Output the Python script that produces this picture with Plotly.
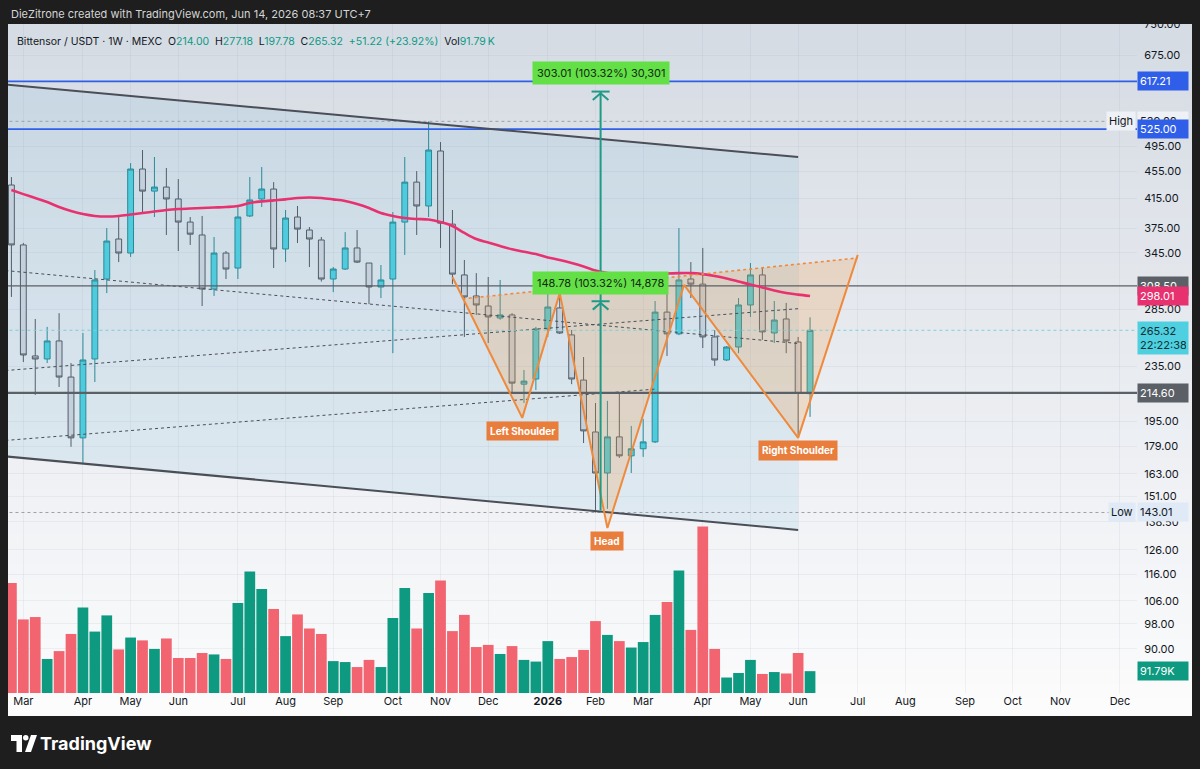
import numpy as np
import pandas as pd
import plotly.graph_objects as go

# ---------------- data ----------------
week_start = "2025-02-24"
n_weeks = 68

open_ = [434.3, 354.4, 243.2, 240.7, 255.9, 226.4, 184.2, 240.7, 315.7, 361.6,
         344.8, 458.5, 425.4, 431.3, 414.2, 383.0, 366.6, 305.2, 344.8, 327.7,
         391.0, 414.2, 428.4, 349.6, 389.6, 372.8, 360.4, 315.7, 326.6, 350.8,
         333.3, 307.3, 315.7, 383.0, 438.6, 404.5, 487.4, 380.3, 320.1, 298.1,
         288.1, 276.6, 279.5, 221.0, 224.9, 266.5, 286.2, 261.2, 224.1, 187.9,
         163.5, 184.8, 173.3, 177.5, 181.7, 282.2, 262.1, 315.7, 310.3, 259.4,
         239.9, 250.7, 289.1, 320.1, 262.9, 275.7, 255.0, 214.00]
high_ = [446.2, 356.8, 275.7, 268.4, 281.2, 237.4, 262.9, 325.5, 375.3, 389.6,
         467.8, 489.0, 477.6, 460.1, 443.2, 389.6, 391.0, 364.1, 347.2, 403.1,
         446.2, 461.6, 438.6, 399.0, 404.5, 376.6, 364.1, 328.8, 370.2, 372.8,
         333.3, 331.1, 396.2, 477.6, 455.3, 539.0, 502.4, 399.0, 336.8, 322.1,
         317.9, 314.7, 281.2, 231.9, 268.4, 314.7, 301.0, 265.6, 242.3, 207.3,
         208.8, 214.4, 191.8, 196.4, 293.0, 307.3, 375.3, 334.4, 350.8, 265.6,
         251.5, 296.0, 333.3, 328.8, 293.0, 291.1, 259.4, 277.18]
low_ = [297.1, 238.2, 213.1, 237.4, 218.9, 178.7, 169.2, 222.6, 301.0, 334.4,
        340.3, 396.2, 389.6, 366.6, 347.2, 354.4, 288.1, 298.1, 315.7, 315.7,
        389.6, 403.1, 327.7, 334.4, 356.8, 328.8, 313.0, 302.0, 325.5, 333.3,
        290.0, 296.0, 245.5, 342.6, 366.6, 389.6, 350.8, 310.3, 259.4, 279.5,
        254.1, 275.0, 214.4, 207.3, 216.7, 259.4, 262.0, 221.0, 181.0, 143.01,
        144.8, 172.1, 163.5, 172.7, 181.0, 243.2, 261.0, 296.0, 249.8, 235.1,
        239.0, 245.5, 277.6, 256.8, 254.1, 245.5, 184.2, 197.78]
close_ = [354.4, 244.0, 240.7, 255.9, 226.4, 184.2, 239.9, 314.7, 359.1, 344.8,
          458.5, 425.4, 431.3, 414.2, 383.0, 367.6, 305.2, 344.8, 326.6, 389.6,
          412.8, 428.4, 349.6, 388.3, 374.0, 361.6, 315.7, 326.6, 350.8, 334.4,
          307.3, 314.7, 383.0, 438.6, 404.5, 489.0, 381.6, 321.0, 297.1, 289.1,
          277.6, 279.5, 221.8, 223.3, 266.5, 287.1, 262.9, 224.9, 188.6, 163.5,
          184.8, 173.3, 177.5, 181.7, 282.2, 262.1, 314.7, 310.3, 259.4, 239.9,
          250.7, 289.1, 320.1, 263.9, 274.7, 255.9, 214.10, 265.32]
volume_k = [462, 309, 319, 143, 176, 248, 359, 258, 326, 183,
            233, 221, 185, 229, 147, 147, 168, 162, 143, 378,
            510, 437, 353, 239, 330, 271, 248, 134, 130, 109,
            139, 109, 315, 441, 271, 420, 473, 260, 328, 193,
            202, 164, 197, 139, 132, 218, 143, 151, 181, 302,
            244, 218, 191, 214, 328, 382, 515, 265, 699, 185,
            65, 84, 139, 80, 88, 82, 168, 91.79]
ma_line = [426.9, 421.1, 415.6, 409.9, 403.1, 397.6, 393.5, 391.0, 390.3, 391.0,
           392.9, 394.9, 396.9, 399.0, 400.3, 401.0, 401.7, 402.4, 403.1, 404.5,
           408.7, 410.8, 412.3, 413.7, 415.6, 416.3, 415.6, 413.7, 411.5, 407.3,
           401.7, 394.9, 391.0, 388.3, 387.0, 386.3, 383.0, 377.9, 369.1, 361.6,
           357.4, 353.2, 349.2, 346.4, 343.6, 339.7, 336.8, 333.3, 329.4, 324.9,
           322.1, 320.4, 320.1, 320.1, 320.4, 321.6, 322.1, 322.1, 321.0, 319.0,
           316.3, 313.1, 309.8, 306.8, 303.6, 301.0, 299.4, 298.01]

month_dates = ["2025-03-03", "2025-04-07", "2025-05-05", "2025-06-02", "2025-07-07",
               "2025-08-04", "2025-09-01", "2025-10-06", "2025-11-03", "2025-12-01",
               "2026-01-05", "2026-02-02", "2026-03-02", "2026-04-06", "2026-05-04",
               "2026-06-01", "2026-07-06", "2026-08-03", "2026-09-07", "2026-10-05",
               "2026-11-02", "2026-12-07"]
month_labels = ["Mar", "Apr", "May", "Jun", "Jul", "Aug", "Sep", "Oct", "Nov", "Dec",
                "<b>2026</b>", "Feb", "Mar", "Apr", "May", "Jun", "Jul", "Aug", "Sep",
                "Oct", "Nov", "Dec"]
price_ticks = [750, 675, 495, 455, 415, 375, 345, 285, 235,
               195, 179, 163, 151, 138.5, 126, 116, 106, 98, 90]

# drawings (date, price)
channel_x = ["2025-02-17", "2026-06-01"]
channel_upper = [611.8, 477.6]
channel_lower = [173.3, 134.8]
channel_mid = [325.5, 253.7]
rise_a_x = ["2025-02-17", "2026-06-01"]
rise_a_y = [231.1, 285.5]
rise_b_x = ["2025-02-17", "2026-03-09"]
rise_b_y = [182.3, 217.3]
hs_x = ["2025-11-10", "2025-12-21", "2026-01-12", "2026-02-09", "2026-03-26", "2026-06-01", "2026-07-06"]
hs_y = [317.9, 197.1, 301.0, 135.7, 309.4, 184.2, 342.6]
neck_x = ["2025-11-16", "2026-07-06"]
neck_y = [295.2, 339.1]
measure_x = "2026-02-05"
measure_low = 144.0
measure_tip1 = 292.78
measure_tip2 = 596.28
blue_levels = [617.21, 525.00]
gray_levels = [308.50, 214.60]
high_mark = 539.00
low_mark = 143.01
last_price = 265.32
ma_last = 298.01
last_volume = 91.79

FONT = "Inter, Roboto, 'Open Sans', sans-serif"
TEXT = "#131722"
X_START, X_END = "2025-02-22", "2026-12-17"
X_FAR0, X_FAR1 = "2025-01-01", "2027-02-01"

dates = pd.date_range(week_start, periods=n_weeks, freq="7D")
bull = [c >= o for o, c in zip(open_, close_)]

fig = go.Figure()

# volume (main linear axis, hidden)
fig.add_trace(go.Bar(
    x=dates, y=volume_k, yaxis="y",
    width=7 * 86400000 * 0.9,
    marker=dict(color=["#0e9a81" if b else "#f2646f" for b in bull], line=dict(width=0)),
))

# channel fill
fig.add_trace(go.Scatter(
    x=[channel_x[0], channel_x[1], channel_x[1], channel_x[0], channel_x[0]],
    y=[channel_upper[0], channel_upper[1], channel_lower[1], channel_lower[0], channel_upper[0]],
    yaxis="y2", mode="lines", fill="toself", fillcolor="rgba(90,175,215,0.12)",
    line=dict(width=0)))

# H&S fill
fig.add_trace(go.Scatter(
    x=[neck_x[0]] + hs_x[1:] + [neck_x[1], neck_x[0]],
    y=[neck_y[0]] + hs_y[1:] + [neck_y[1], neck_y[0]],
    yaxis="y2", mode="lines", fill="toself", fillcolor="rgba(240,150,60,0.22)",
    line=dict(width=0)))

# dotted helper lines
for xs, ys in [(channel_x, channel_mid), (rise_a_x, rise_a_y), (rise_b_x, rise_b_y)]:
    fig.add_trace(go.Scatter(x=xs, y=ys, yaxis="y2", mode="lines",
                             line=dict(color="#4a4e57", width=1, dash="dot")))

# horizontal levels
for lv in blue_levels:
    fig.add_trace(go.Scatter(x=[X_FAR0, X_FAR1], y=[lv, lv], yaxis="y2", mode="lines",
                             line=dict(color="#2f5fe8", width=1.6)))
fig.add_trace(go.Scatter(x=[X_FAR0, X_FAR1], y=[gray_levels[0]] * 2, yaxis="y2", mode="lines",
                         line=dict(color="#5b5f66", width=1.3)))
fig.add_trace(go.Scatter(x=[X_FAR0, X_FAR1], y=[gray_levels[1]] * 2, yaxis="y2", mode="lines",
                         line=dict(color="#5b5f66", width=2.2)))
for lv in [high_mark, low_mark]:
    fig.add_trace(go.Scatter(x=[X_FAR0, "2026-12-01"], y=[lv, lv], yaxis="y2", mode="lines",
                             line=dict(color="#9aa0aa", width=1, dash="dot")))
fig.add_trace(go.Scatter(x=[X_FAR0, X_FAR1], y=[last_price] * 2, yaxis="y2", mode="lines",
                         line=dict(color="#7ccfd8", width=1, dash="dot")))

# candles
fig.add_trace(go.Candlestick(
    x=dates, open=open_, high=high_, low=low_, close=close_, yaxis="y2",
    increasing=dict(fillcolor="#4fd0e0", line=dict(color="#23868f", width=1)),
    decreasing=dict(fillcolor="#d3d5dc", line=dict(color="#50545c", width=1)),
    whiskerwidth=0))

# moving average
fig.add_trace(go.Scatter(x=dates, y=ma_line, yaxis="y2", mode="lines",
                         line=dict(color="#e8316f", width=2.6, shape="spline")))

# channel borders
for ys in [channel_upper, channel_lower]:
    fig.add_trace(go.Scatter(x=channel_x, y=ys, yaxis="y2", mode="lines",
                             line=dict(color="#4a4e57", width=2)))

# neckline + zigzag
fig.add_trace(go.Scatter(x=neck_x, y=neck_y, yaxis="y2", mode="lines",
                         line=dict(color="#ef8a3c", width=1.6, dash="dot")))
fig.add_trace(go.Scatter(x=hs_x, y=hs_y, yaxis="y2", mode="lines",
                         line=dict(color="#ef8a3c", width=2)))

# measurement line with arrow heads
teal = "#1f9a87"
fig.add_trace(go.Scatter(x=[measure_x, measure_x], y=[measure_low, measure_tip2], yaxis="y2",
                         mode="lines", line=dict(color=teal, width=2)))
mdt = pd.Timestamp(measure_x)
arr_x, arr_y = [], []
for tip in [measure_tip1, measure_tip2]:
    arr_x += [mdt - pd.Timedelta(days=5.3), mdt + pd.Timedelta(days=5.3), None,
              mdt - pd.Timedelta(days=4.6), mdt, mdt + pd.Timedelta(days=4.6), None]
    arr_y += [tip, tip, None, tip * 0.972, tip * 0.994, tip * 0.972, None]
fig.add_trace(go.Scatter(x=arr_x, y=arr_y, yaxis="y2", mode="lines",
                         line=dict(color=teal, width=2)))

# ---------------- background panel (gradient) ----------------
def pxx(px):
    return (px - 8) / 1129

def pxy(py):
    return (693 - py) / 669

shapes = [dict(type="rect", xref="paper", yref="paper", x0=pxx(8), x1=pxx(1192),
               y0=pxy(716), y1=pxy(24), fillcolor="#fbfbfc", line=dict(width=0), layer="below")]
top_c = np.array([214, 220, 228])
bot_c = np.array([252, 252, 253])
n_strips = 46
for k in range(n_strips):
    t = k / (n_strips - 1)
    c = top_c + (bot_c - top_c) * t
    y0 = 24 + k * 15
    y1 = min(y0 + 15.5, 716)
    shapes.append(dict(type="rect", xref="paper", yref="paper", x0=pxx(8), x1=pxx(1192),
                       y0=pxy(y1), y1=pxy(y0), fillcolor=f"rgb({int(c[0])},{int(c[1])},{int(c[2])})",
                       line=dict(width=0), layer="below"))
# dark frame strip above the panel (clips the topmost tick label like the reference)
shapes.append(dict(type="rect", xref="paper", yref="paper", x0=pxx(900), x1=pxx(1200),
                   y0=pxy(24), y1=pxy(0), fillcolor="#1e1e1e", line=dict(width=0), layer="above"))
# TradingView logo glyph
shapes += [
    dict(type="rect", xref="paper", yref="paper", x0=pxx(11), x1=pxx(22), y0=pxy(741), y1=pxy(735),
         fillcolor="white", line=dict(width=0)),
    dict(type="rect", xref="paper", yref="paper", x0=pxx(16.5), x1=pxx(22), y0=pxy(752), y1=pxy(741),
         fillcolor="white", line=dict(width=0)),
    dict(type="circle", xref="paper", yref="paper", x0=pxx(23), x1=pxx(28.5), y0=pxy(740.5), y1=pxy(735),
         fillcolor="white", line=dict(width=0)),
    dict(type="path", xref="paper", yref="paper",
         path=f"M{pxx(25)},{pxy(752)} L{pxx(31)},{pxy(752)} L{pxx(37)},{pxy(735)} L{pxx(31)},{pxy(735)} Z",
         fillcolor="white", line=dict(width=0)),
]

# ---------------- annotations ----------------
ann = []
ann.append(dict(xref="paper", yref="paper", x=pxx(9), y=pxy(14), xanchor="left", yanchor="middle",
                text="DieZitrone created with TradingView.com, Jun 14, 2026 08:37 UTC+7",
                showarrow=False, font=dict(family=FONT, size=11, color="#d4d4d4")))
g = "#0c9a84"
prev_close = close_[-2]
def val(s):
    return f"<span style='color:{g}'>{s}</span>"
legend_txt = ("Bittensor / USDT · 1W · MEXC\u00a0\u00a0O" + val(f"{open_[-1]:.2f}") +
              "\u00a0\u00a0H" + val(f"{high_[-1]:.2f}") +
              "\u00a0\u00a0L" + val(f"{low_[-1]:.2f}") +
              "\u00a0\u00a0C" + val(f"{close_[-1]:.2f}") +
              "\u00a0\u00a0" + val(f"{close_[-1]-prev_close:+.2f} ({(close_[-1]/prev_close-1)*100:+.2f}%)") +
              "\u00a0\u00a0Vol" + val(f"{last_volume:.2f}\u2009K"))
ann.append(dict(xref="paper", yref="paper", x=pxx(15), y=pxy(42), xanchor="left", yanchor="middle",
                text=legend_txt, showarrow=False, font=dict(family=FONT, size=10.5, color=TEXT)))
ann.append(dict(xref="paper", yref="paper", x=pxx(38), y=pxy(743), xanchor="left", yanchor="middle",
                text="<b>TradingView</b>", showarrow=False, font=dict(family=FONT, size=18, color="white")))

def tag(price, text, bg, fg, yref="y2", yanchor="middle", yshift=0):
    y = float(np.log10(price)) if yref == "y2" else price
    return dict(xref="paper", x=1.0, xanchor="left", yref=yref, y=y, yanchor=yanchor, yshift=yshift,
                text=text, showarrow=False, bgcolor=bg, borderpad=2, width=46, align="left",
                font=dict(family=FONT, size=11, color=fg))

ann += [
    tag(blue_levels[0], f"{blue_levels[0]:.2f}", "#2f5fe8", "white"),
    tag(high_mark, f"{high_mark:.2f}", "#eef1f6", TEXT),
    tag(blue_levels[1], f"{blue_levels[1]:.2f}", "#2f5fe8", "white"),
    tag(gray_levels[0], f"{gray_levels[0]:.2f}", "#5b5f66", "white"),
    tag(ma_last, f"{ma_last:.2f}", "#e8316f", "white"),
    tag(last_price, f"{last_price:.2f}<br>22:22:38", "#4fd0e0", "#103035", yanchor="top", yshift=9),
    tag(gray_levels[1], f"{gray_levels[1]:.2f}", "#5b5f66", "white"),
    tag(low_mark, f"{low_mark:.2f}", "#dfeaf6", TEXT),
    tag(last_volume, f"{last_volume:.2f}K", "#0e9a81", "white", yref="y"),
]
for price, label in [(high_mark, "High"), (low_mark, "Low")]:
    ann.append(dict(xref="paper", x=1.0, xanchor="right", xshift=-1, yref="y2", y=float(np.log10(price)),
                    yanchor="middle", text=label, showarrow=False, bgcolor="#eef1f6" if label == "High" else "#dfeaf6",
                    borderpad=2, font=dict(family=FONT, size=11, color=TEXT)))

# measurement labels
for price, text in [(635.0, "303.01 (103.32%) 30,301"), (311.0, "148.78 (103.32%) 14,878")]:
    ann.append(dict(xref="x", x=measure_x, yref="y2", y=float(np.log10(price)), xanchor="center",
                    yanchor="middle", text=text, showarrow=False, bgcolor="#62e046", borderpad=4,
                    font=dict(family=FONT, size=11, color="#142814")))
# pattern labels
for d, price, text in [("2025-12-21", 188.6, "Left Shoulder"), ("2026-02-09", 129.9, "Head"),
                       ("2026-06-01", 176.2, "Right Shoulder")]:
    ann.append(dict(xref="x", x=d, yref="y2", y=float(np.log10(price)), xanchor="center",
                    yanchor="middle", text=f"<b>{text}</b>", showarrow=False, bgcolor="#e97d3b",
                    borderpad=3, font=dict(family=FONT, size=10, color="white")))

grid = "rgba(120,130,150,0.09)"
fig.update_layout(
    width=1200, height=769,
    margin=dict(l=8, r=63, t=24, b=76),
    paper_bgcolor="#1e1e1e", plot_bgcolor="rgba(0,0,0,0)",
    showlegend=False, hovermode=False, boxgap=0.3,
    shapes=shapes, annotations=ann,
    font=dict(family=FONT, size=11, color=TEXT),
    xaxis=dict(type="date", range=[X_START, X_END], rangeslider=dict(visible=False),
               tickvals=month_dates, ticktext=month_labels, showgrid=True, gridcolor=grid,
               zeroline=False, showline=False, ticks="", tickfont=dict(size=11, color=TEXT)),
    yaxis=dict(range=[0, 2810], visible=False, fixedrange=True),
    yaxis2=dict(type="log", overlaying="y", side="right",
                range=[1.8894, 2.8750], tickvals=price_ticks,
                ticktext=[f"{v:.2f}" for v in price_ticks],
                showgrid=True, gridcolor=grid, zeroline=False, showline=False,
                ticks="outside", ticklen=4, tickcolor="rgba(0,0,0,0)",
                tickfont=dict(size=11, color=TEXT)),
)

fig.write_html("out.html")
